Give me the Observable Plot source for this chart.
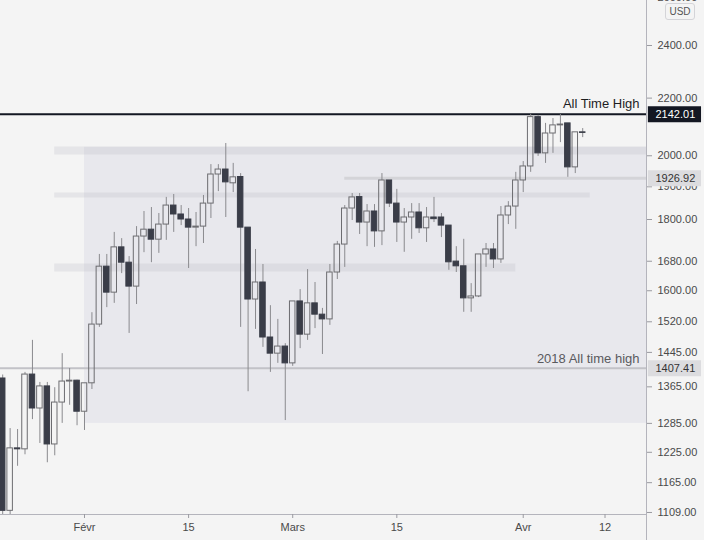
<!DOCTYPE html>
<html><head><meta charset="utf-8">
<script src="https://cdn.jsdelivr.net/npm/d3@7"></script>
<script src="https://cdn.jsdelivr.net/npm/@observablehq/plot@0.6"></script>
<style>
html,body{margin:0;padding:0;background:#f4f4f4;}
#wrap{position:relative;width:704px;height:540px;overflow:hidden;}
#usd{position:absolute;left:665px;top:3px;width:28px;height:15px;border:1px solid #d4d4d8;border-radius:3px;font:10px "Liberation Sans",Arial,sans-serif;color:#555;text-align:center;line-height:15px;background:#f4f4f4;}
</style></head><body><div id="wrap"></div>
<script>
// ---- data (daily ETH/USD candles, 21 Jan 2021 -> 9 Apr 2021) ----
const firstDay = "2021-01-21";
const opens  = [1384,1112,1233,1231,1393,1317,1366,1241,1330,1377,1379,1310,1373,1513,1665,1595,1719,1676,1611,1750,1770,1741,1785,1842,1815,1800,1776,1779,1848,1939,1955,1911,1931,1776,1577,1622,1481,1442,1459,1419,1572,1488,1567,1538,1526,1649,1727,1833,1868,1791,1824,1765,1920,1848,1791,1806,1821,1774,1806,1806,1782,1679,1666,1580,1585,1699,1713,1685,1812,1839,1920,1965,2132,2008,2075,2103,2110,1962,2079];
const highs  = [1392,1274,1272,1398,1474,1375,1375,1363,1442,1407,1380,1373,1543,1699,1699,1762,1744,1693,1779,1824,1836,1818,1867,1876,1842,1833,1821,1873,1971,1971,2041,1975,1942,1776,1713,1671,1561,1526,1466,1572,1603,1657,1622,1554,1671,1736,1842,1879,1879,1845,1845,1942,1920,1892,1833,1848,1848,1836,1867,1818,1782,1721,1742,1619,1699,1730,1730,1839,1854,1946,1981,2142,2138,2110,2127,2141,2110,2079,2092];
const lows   = [1060,1060,1197,1220,1293,1243,1204,1218,1285,1324,1280,1270,1359,1506,1556,1567,1646,1491,1564,1704,1676,1702,1739,1762,1782,1660,1721,1730,1803,1885,1806,1882,1506,1354,1501,1457,1398,1419,1291,1412,1454,1474,1503,1440,1511,1630,1663,1797,1756,1721,1719,1724,1836,1733,1705,1742,1759,1733,1791,1747,1655,1649,1544,1544,1582,1663,1660,1674,1785,1771,1882,1946,1998,1975,2008,2044,1930,1942,2061];
const closes = [1112,1233,1231,1393,1317,1366,1241,1330,1377,1379,1310,1373,1513,1665,1595,1719,1676,1611,1750,1770,1741,1785,1842,1815,1800,1776,1779,1848,1939,1955,1914,1930,1776,1577,1622,1481,1442,1459,1419,1572,1488,1567,1538,1526,1649,1727,1833,1867,1791,1824,1765,1920,1848,1791,1806,1821,1774,1806,1801,1782,1677,1666,1580,1585,1699,1713,1685,1812,1839,1920,1965,2132,2008,2075,2103,2106,1962,2079,2077];

// price axis ticks and date axis ticks
const yTicks = [2600,2400,2200,2000,1900,1800,1680,1600,1520,1445,1365,1285,1225,1165,1109];
const xTickDates  = ["2021-02-01","2021-02-15","2021-03-01","2021-03-15","2021-04-01","2021-04-12"];
const xTickLabels = ["Févr","15","Mars","15","Avr","12"];

// annotations
const zoneStart = "2021-02-01", zoneLow = 1285, zoneHigh = 2028;
const bandPrices = [2017.5, 1874.4, 1662.7];
const bandFrom   = ["2021-01-28","2021-01-28","2021-01-28"];
const bandTo     = [null,"2021-04-10","2021-03-31"];
const athPrice = 2142.01, athLabel = "All Time High";
const levelPrice = 1926.92, levelFrom = "2021-03-08";
const oldAthPrice = 1407.41, oldAthLabel = "2018 All time high";

// ---- build ----
const DAY = 864e5;
const xDomain = [new Date(Date.UTC(2021,0,20,16,54)), new Date(Date.UTC(2021,3,17,13,52))];
const yDomain = [1105.3, 2585.3];
const d0 = new Date(firstDay + "T00:00Z");
const days = d3.utcDay.range(d0, d3.utcDay.offset(d0, opens.length));
const candles = days.map((date,i)=>({date, open:opens[i], high:highs[i], low:lows[i], close:closes[i]}));
const up = candles.filter(d=>d.close>=d.open), down = candles.filter(d=>d.close<d.open);
const zone = [{start:new Date(zoneStart+"T00:00Z"), end:xDomain[1], low:zoneLow, high:zoneHigh}];
const bands = bandPrices.map((p,i)=>({price:p, from:new Date(bandFrom[i]+"T00:00Z"), to: bandTo[i]? new Date(bandTo[i]+"T00:00Z") : xDomain[1]}));
const labelMap = new Map(xTickDates.map((d,i)=>[+new Date(d+"T00:00Z"), xTickLabels[i]]));
const tags = [
  {price: athPrice, bg:"#131722", fg:"#ffffff"},
  {price: levelPrice, bg:"#dcdcdf", fg:"#333333"},
  {price: oldAthPrice, bg:"#dcdcdf", fg:"#333333"}
];
const font = '"Liberation Sans", Arial, sans-serif';
const bodyX1 = d=>new Date(+d.date - 0.37*DAY), bodyX2 = d=>new Date(+d.date + 0.37*DAY);
const tagX1 = new Date(+xDomain[1] + 0.25*DAY), tagX2 = new Date(+xDomain[1] + 7.4*DAY);

const chart = Plot.plot({
  width:704, height:540, marginLeft:0, marginRight:58, marginTop:0, marginBottom:26,
  style:{background:"#f4f4f4", fontFamily:font, fontSize:"11px", color:"#4a4a4a"},
  x:{type:"utc", domain:xDomain},
  y:{type:"log", domain:yDomain},
  marks:[
    Plot.rect(zone, {x1:"start", x2:"end", y1:"low", y2:"high", fill:"#e8e8ed"}),
    Plot.ruleY([bands[0]], {y:"price", x1:"from", x2:"to", stroke:"#b9b9c4", strokeOpacity:0.25, strokeWidth:8}),
    Plot.ruleY([bands[1]], {y:"price", x1:"from", x2:"to", stroke:"#b9b9c4", strokeOpacity:0.25, strokeWidth:5}),
    Plot.ruleY([bands[2]], {y:"price", x1:"from", x2:"to", stroke:"#b9b9c4", strokeOpacity:0.25, strokeWidth:8}),
    Plot.ruleY([oldAthPrice], {stroke:"#c2c2c7", strokeWidth:2}),
    Plot.ruleY([levelPrice], {x1:new Date(levelFrom+"T00:00Z"), x2:xDomain[1], stroke:"#d4d4d8", strokeWidth:3}),
    Plot.ruleY([athPrice], {stroke:"#131722", strokeWidth:2}),
    Plot.text([athLabel], {y:()=>athPrice, text:d=>d, frameAnchor:"right", textAnchor:"end", dx:-7, dy:-10, fontSize:13, fill:"#1d1d1f"}),
    Plot.text([oldAthLabel], {y:()=>oldAthPrice, text:d=>d, frameAnchor:"right", textAnchor:"end", dx:-7, dy:-10, fontSize:13, fill:"#5a5a5e"}),
    // wicks
    Plot.ruleX(candles, {x:"date", y1:"high", y2:d=>Math.max(d.open,d.close), stroke:"#8a8a8e", clip:true}),
    Plot.ruleX(candles, {x:"date", y1:d=>Math.min(d.open,d.close), y2:"low", stroke:"#8a8a8e", clip:true}),
    // bodies
    Plot.rect(up, {x1:bodyX1, x2:bodyX2, y1:"open", y2:"close", fill:"none", stroke:"#6c6c70", clip:true}),
    Plot.rect(down, {x1:bodyX1, x2:bodyX2, y1:"open", y2:"close", fill:"#3a3d48", stroke:"#3a3d48", clip:true}),
    // axes
    Plot.ruleY([yDomain[0]], {x1:xDomain[0], x2:xDomain[1], stroke:"#b4b4bc"}),
    Plot.ruleX([xDomain[1]], {y1:1000, y2:2800, stroke:"#b4b4bc"}),
    Plot.axisY(yTicks, {anchor:"right", label:null, tickFormat:d=>d.toFixed(2), tickSize:5, tickPadding:6, fontSize:11, stroke:"#9a9aa0", fill:"#4a4a4a"}),
    Plot.axisX(xTickDates.map(d=>new Date(d+"T00:00Z")), {anchor:"bottom", label:null, tickFormat:d=>labelMap.get(+d), tickSize:4, tickPadding:5, fontSize:11, stroke:"#9a9aa0", fill:"#4a4a4a"}),
    // price tags on the scale
    Plot.ruleY(tags, {y:"price", x1:()=>tagX1, x2:()=>tagX2, stroke:d=>d.bg, strokeWidth:16}),
    Plot.text(tags, {y:"price", text:d=>d.price.toFixed(2), frameAnchor:"right", textAnchor:"start", dx:9, fontSize:11, fill:d=>d.fg})
  ]
});
const wrap = document.getElementById("wrap");
wrap.appendChild(chart);
const usd = document.createElement("div");
usd.id = "usd"; usd.textContent = "USD";
wrap.appendChild(usd);
</script>
</body></html>
